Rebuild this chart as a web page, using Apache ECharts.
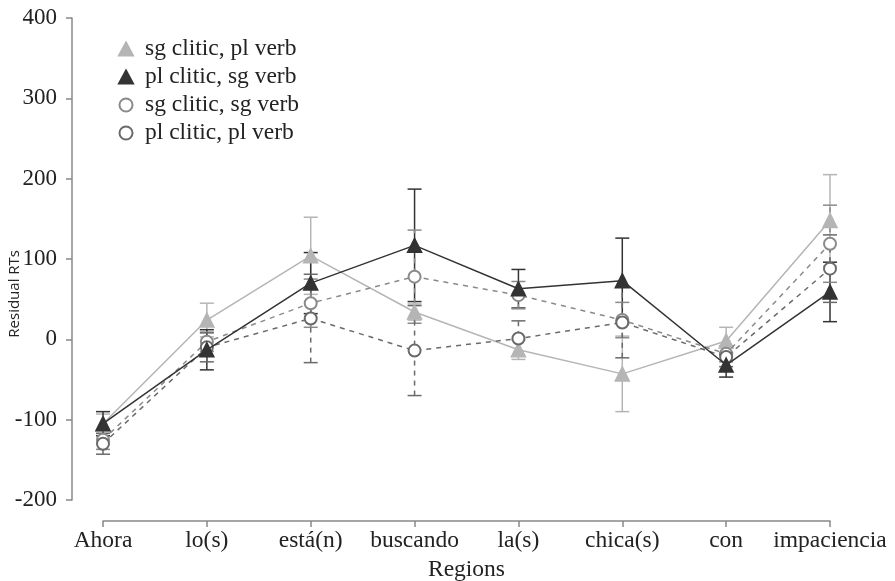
<!DOCTYPE html>
<html><head><meta charset="utf-8">
<script src="https://cdn.jsdelivr.net/npm/echarts@6/dist/echarts.min.js"></script>
<style>html,body{margin:0;padding:0;background:#fff}#c{width:895px;height:581px}</style>
</head><body><div id="c"></div>
<script>
var categories = ['Ahora','lo(s)','está(n)','buscando','la(s)','chica(s)','con','impaciencia'];
var yTicks = [-200,-100,0,100,200,300,400];
var seriesNames = ['sg clitic, pl verb','pl clitic, sg verb','sg clitic, sg verb','pl clitic, pl verb'];
var sgClPlV = [-105, 24, 104, 34, -13, -43, -2, 148];
var plClSgV = [-105, -13, 70, 117, 63, 73, -32, 59];
var sgClSgV = [-125, -3, 45, 78, 55, 24, -18, 119];
var plClPlV = [-130, -10, 26, -14, 1, 21, -22, 88];
var errSgClPlV = [12, 21, 48, 10, 12, 47, 17, 57];
var errPlClSgV = [15, 25, 38, 70, 24, 53, 15, 37];
var errSgClSgV = [12, 12, 30, 58, 17, 22, 10, 48];
var errPlClPlV = [13, 18, 55, 56, 22, 44, 12, 42];

var values = [sgClPlV, plClSgV, sgClSgV, plClPlV];
var errs = [errSgClPlV, errPlClSgV, errSgClSgV, errPlClPlV];
var colors = ['#b5b5b5', '#333333', '#8a8a8a', '#6a6a6a'];
var symbols = ['triangle', 'triangle', 'emptyCircle', 'emptyCircle'];
var dashed = [false, false, true, true];
var serif = 'Liberation Serif';

var series = [];
values.forEach(function (vals, s) {
  series.push({
    type: 'custom',
    name: seriesNames[s] + ' err',
    z: 2 + s,
    silent: true,
    data: vals.map(function (v, i) { return [i, v - errs[s][i], v + errs[s][i]]; }),
    encode: { x: 0, y: [1, 2] },
    renderItem: function (params, api) {
      var lo = api.coord([api.value(0), api.value(1)]);
      var hi = api.coord([api.value(0), api.value(2)]);
      var w = 7;
      var st = { stroke: colors[s], lineWidth: 1.5, lineDash: dashed[s] ? [5, 5] : null };
      return { type: 'group', children: [
        { type: 'line', shape: { x1: lo[0], y1: lo[1], x2: hi[0], y2: hi[1] }, style: st },
        { type: 'line', shape: { x1: lo[0] - w, y1: lo[1], x2: lo[0] + w, y2: lo[1] }, style: { stroke: colors[s], lineWidth: 1.5 } },
        { type: 'line', shape: { x1: hi[0] - w, y1: hi[1], x2: hi[0] + w, y2: hi[1] }, style: { stroke: colors[s], lineWidth: 1.5 } }
      ]};
    }
  });
});
values.forEach(function (vals, s) {
  series.push({
    type: 'line',
    name: seriesNames[s],
    z: 10 + (s === 1 ? 10 : s),
    data: vals,
    symbol: symbols[s],
    symbolSize: symbols[s] === 'triangle' ? 14 : 12,
    lineStyle: { color: colors[s], width: 1.5, type: dashed[s] ? [5, 5] : 'solid' },
    itemStyle: { color: colors[s], borderColor: colors[s], borderWidth: 1.5 },
    emphasis: { disabled: true }
  });
});

var chart = echarts.init(document.getElementById('c'));
chart.setOption({
  animation: false,
  backgroundColor: '#fff',
  grid: { left: 103, right: 65, top: 18, bottom: 81, containLabel: false, outerBoundsMode: 'none' },
  legend: {
    orient: 'vertical', left: 113, top: 32,
    itemWidth: 14, itemHeight: 13, itemGap: 4,
    textStyle: { fontFamily: serif, fontSize: 23.5, color: '#222', lineHeight: 24, padding: [0, 0, 0, 7] },
    data: seriesNames.map(function (n, s) {
      return { name: n, icon: symbols[s] };
    })
  },
  xAxis: {
    type: 'category', data: categories, boundaryGap: false, offset: 21,
    axisLine: { onZero: false, lineStyle: { color: '#888', width: 1.5 } },
    axisTick: { show: true, length: 6, alignWithLabel: true, lineStyle: { color: '#888', width: 1.5 } },
    axisLabel: { fontFamily: serif, fontSize: 23.5, color: '#222', margin: 8, interval: 0 },
    name: 'Regions', nameLocation: 'middle', nameGap: 34,
    nameTextStyle: { fontFamily: serif, fontSize: 23.5, color: '#222' },
    splitLine: { show: false }
  },
  yAxis: {
    type: 'value', min: yTicks[0], max: yTicks[yTicks.length - 1], interval: 100, offset: 31,
    axisLine: { show: true, lineStyle: { color: '#888', width: 1.5 } },
    axisTick: { show: true, length: 6, lineStyle: { color: '#888', width: 1.5 } },
    axisLabel: { fontFamily: serif, fontSize: 23, color: '#222', margin: 15 },
    splitLine: { show: false }
  },
  graphic: [{
    type: 'text', left: 7, top: 250, rotation: Math.PI / 2,
    style: { text: 'Residual RTs', font: '15px "Open Sans"', fill: '#222' }
  }],
  series: series
});
</script></body></html>
